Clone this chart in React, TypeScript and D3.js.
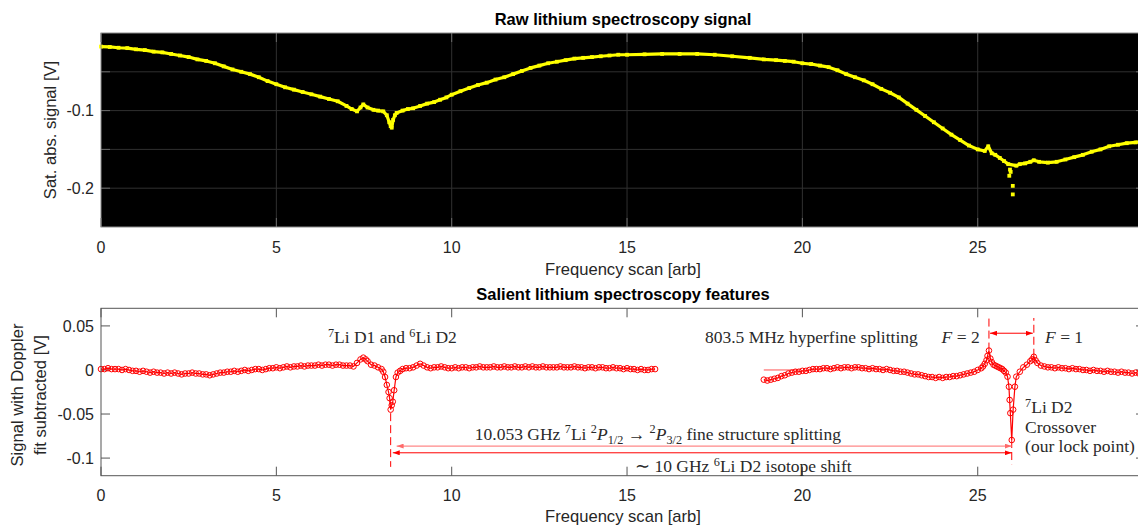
import React, { useEffect, useRef } from 'react';
import * as d3 from 'd3';

// raw saturated absorption scan, [scan, volts]
const rawSignal: [number, number][] = [
  [0, -0.0175], [0.25, -0.018], [0.5, -0.019], [0.75, -0.0195], [1, -0.021], [1.25, -0.022], [1.5, -0.024],
  [1.75, -0.025], [2, -0.027], [2.25, -0.029], [2.5, -0.031], [2.75, -0.034], [3, -0.036], [3.25, -0.039],
  [3.5, -0.043], [3.75, -0.047], [4, -0.05], [4.25, -0.053], [4.5, -0.057], [4.75, -0.062], [5, -0.066],
  [5.25, -0.07], [5.5, -0.073], [5.75, -0.076], [6, -0.079], [6.25, -0.082], [6.5, -0.085], [6.75, -0.088],
  [7, -0.094], [7.15, -0.098], [7.3, -0.101], [7.4, -0.096], [7.48, -0.092], [7.6, -0.096], [7.77, -0.099],
  [7.9, -0.1], [8.05, -0.101], [8.15, -0.106], [8.22, -0.115], [8.26, -0.12], [8.29, -0.122], [8.33, -0.112],
  [8.38, -0.106], [8.43, -0.103], [8.6, -0.1], [8.75, -0.098], [8.9, -0.097], [9.1, -0.094], [9.3, -0.091],
  [9.5, -0.089], [9.67, -0.086], [9.85, -0.083], [10, -0.0795], [10.25, -0.075], [10.5, -0.071], [10.75, -0.067],
  [11, -0.064], [11.25, -0.06], [11.5, -0.057], [11.75, -0.053], [12, -0.049], [12.25, -0.045], [12.5, -0.042],
  [12.75, -0.039], [13, -0.037], [13.25, -0.035], [13.5, -0.033], [13.75, -0.032], [14, -0.031], [14.25, -0.03],
  [14.5, -0.029], [14.75, -0.028], [15, -0.028], [15.5, -0.0275], [16, -0.027], [16.5, -0.027], [17, -0.027],
  [17.5, -0.028], [18, -0.03], [18.5, -0.032], [18.9, -0.034], [19.25, -0.035], [19.5, -0.036], [19.75, -0.037],
  [20, -0.039], [20.25, -0.04], [20.5, -0.042], [20.75, -0.044], [21, -0.048], [21.25, -0.053], [21.5, -0.057],
  [21.75, -0.061], [22, -0.066], [22.25, -0.072], [22.5, -0.077], [22.75, -0.083], [23, -0.091], [23.25, -0.099],
  [23.5, -0.107], [23.75, -0.115], [24, -0.123], [24.25, -0.131], [24.5, -0.138], [24.75, -0.145], [25, -0.15],
  [25.2, -0.152], [25.3, -0.146], [25.4, -0.155], [25.5, -0.157], [25.63, -0.161], [25.75, -0.165], [25.87, -0.169],
  [26.1, -0.171], [26.2, -0.169], [26.35, -0.168], [26.5, -0.166], [26.6, -0.164], [26.75, -0.166], [27, -0.167],
  [27.25, -0.166], [27.5, -0.163], [27.75, -0.16], [28, -0.157], [28.25, -0.153], [28.5, -0.15], [28.75, -0.146],
  [29, -0.144], [29.25, -0.142], [29.5, -0.141], [29.77, -0.139],
];
const rawDipDots: [number, number][] = [
  [25.92, -0.176], [25.94, -0.179], [25.9, -0.184], [26.0, -0.197], [26.0, -0.208],
];

// doppler-subtracted signal, two scan pieces
const diffLeft: [number, number][] = [
  [0, 0.001], [0.1, 0.001], [0.2, 0.002], [0.3, 0.001], [0.4, 0.001], [0.5, 0.001], [0.6, 0], [0.7, 0.001], [0.8, 0], [0.9, -0.001],
  [1, -0.001], [1.1, -0.002], [1.2, -0.001], [1.3, -0.002], [1.4, -0.003], [1.5, -0.002], [1.6, -0.003], [1.7, -0.003], [1.8, -0.004], [1.9, -0.003],
  [2, -0.004], [2.1, -0.003], [2.2, -0.004], [2.3, -0.005], [2.4, -0.004], [2.5, -0.004], [2.6, -0.003], [2.7, -0.004], [2.8, -0.004], [2.9, -0.005],
  [3, -0.005], [3.1, -0.006], [3.2, -0.005], [3.3, -0.004], [3.4, -0.003], [3.5, -0.003], [3.6, -0.002], [3.7, -0.002], [3.8, -0.001], [3.9, -0.002],
  [4, -0.001], [4.1, 0], [4.2, -0.001], [4.3, 0], [4.4, 0.001], [4.5, 0.001], [4.6, 0], [4.7, 0.001], [4.8, 0.002], [4.9, 0.002],
  [5, 0.003], [5.1, 0.002], [5.2, 0.003], [5.3, 0.004], [5.4, 0.003], [5.5, 0.004], [5.6, 0.004], [5.7, 0.005], [5.8, 0.004], [5.9, 0.005],
  [6, 0.005], [6.1, 0.005], [6.2, 0.006], [6.3, 0.005], [6.4, 0.006], [6.5, 0.006], [6.6, 0.005], [6.7, 0.006], [6.8, 0.006], [6.9, 0.005],
  [7, 0.005], [7.1, 0.005], [7.2, 0.004], [7.3, 0.008], [7.4, 0.012], [7.48, 0.014], [7.55, 0.012], [7.6, 0.01], [7.7, 0.006], [7.8, 0.005], [7.9, 0.003],
  [8, 0.001], [8.05, -0.002], [8.1, -0.008], [8.15, -0.017], [8.2, -0.025], [8.23, -0.032], [8.26, -0.045], [8.29, -0.04], [8.32, -0.036],
  [8.36, -0.023], [8.41, -0.008], [8.46, -0.003], [8.53, -0.001], [8.6, 0.001], [8.7, 0.002], [8.8, 0.002], [8.9, 0.003],
  [9, 0.005], [9.1, 0.007], [9.2, 0.005], [9.3, 0.003], [9.4, 0.002], [9.5, 0.003], [9.6, 0.003], [9.7, 0.004], [9.8, 0.003], [9.9, 0.002],
  [10, 0.002], [10.1, 0.003], [10.2, 0.002], [10.3, 0.003], [10.4, 0.003], [10.5, 0.002], [10.6, 0.003], [10.7, 0.003], [10.8, 0.004], [10.9, 0.003],
  [11, 0.003], [11.1, 0.003], [11.2, 0.004], [11.3, 0.003], [11.4, 0.003], [11.5, 0.004], [11.6, 0.003], [11.7, 0.003], [11.8, 0.004], [11.9, 0.003],
  [12, 0.003], [12.1, 0.004], [12.2, 0.003], [12.3, 0.004], [12.4, 0.003], [12.5, 0.003], [12.6, 0.004], [12.7, 0.003], [12.8, 0.003], [12.9, 0.003],
  [13, 0.003], [13.1, 0.004], [13.2, 0.003], [13.3, 0.003], [13.4, 0.003], [13.5, 0.004], [13.6, 0.003], [13.7, 0.003], [13.8, 0.002], [13.9, 0.003],
  [14, 0.003], [14.1, 0.002], [14.2, 0.003], [14.3, 0.003], [14.4, 0.002], [14.5, 0.002], [14.6, 0.003], [14.7, 0.002], [14.8, 0.002], [14.9, 0.001],
  [15, 0.002], [15.1, 0.001], [15.2, 0.001], [15.3, 0], [15.4, 0.001], [15.5, 0], [15.6, 0], [15.7, 0.001], [15.8, 0.001],
];
const diffRight: [number, number][] = [
  [18.9, -0.011], [19, -0.012], [19.1, -0.011], [19.2, -0.01], [19.3, -0.009], [19.4, -0.007], [19.5, -0.006], [19.6, -0.004], [19.7, -0.003], [19.8, -0.002], [19.9, -0.002],
  [20, -0.001], [20.1, -0.001], [20.2, 0], [20.3, 0.001], [20.4, 0.001], [20.5, 0.001], [20.6, 0.002], [20.7, 0.002], [20.8, 0.001], [20.9, 0.002],
  [21, 0.003], [21.1, 0.002], [21.2, 0.003], [21.3, 0.003], [21.4, 0.002], [21.5, 0.003], [21.6, 0.003], [21.7, 0.002], [21.8, 0.002], [21.9, 0.001],
  [22, 0.002], [22.1, 0.001], [22.2, 0.001], [22.3, 0], [22.4, 0.001], [22.5, 0], [22.6, -0.001], [22.7, -0.001], [22.8, -0.002], [22.9, -0.002],
  [23, -0.003], [23.1, -0.004], [23.2, -0.005], [23.3, -0.005], [23.4, -0.006], [23.5, -0.007], [23.6, -0.008], [23.7, -0.008], [23.8, -0.009], [23.9, -0.008],
  [24, -0.009], [24.1, -0.008], [24.2, -0.008], [24.3, -0.007], [24.4, -0.007], [24.5, -0.006], [24.6, -0.005], [24.7, -0.004], [24.8, -0.003], [24.9, -0.002],
  [25, 0], [25.1, 0.002], [25.15, 0.004], [25.2, 0.007], [25.25, 0.011], [25.28, 0.016], [25.32, 0.022], [25.36, 0.013], [25.4, 0.009],
  [25.45, 0.006], [25.5, 0.005], [25.55, 0.004], [25.6, 0.003], [25.65, 0.002], [25.7, 0.001], [25.75, -0.001], [25.8, -0.003],
  [25.85, -0.0076], [25.89, -0.019], [25.91, -0.034], [25.93, -0.049], [25.97, -0.0795], [26.01, -0.045], [26.06, -0.019],
  [26.1, -0.0076], [26.2, -0.002], [26.3, 0.003], [26.4, 0.006], [26.5, 0.01], [26.55, 0.012], [26.6, 0.015], [26.65, 0.011],
  [26.7, 0.008], [26.8, 0.005], [26.9, 0.004],
  [27, 0.003], [27.1, 0.003], [27.2, 0.002], [27.3, 0.003], [27.4, 0.002], [27.5, 0.002], [27.6, 0.001], [27.7, 0.002], [27.8, 0.001], [27.9, 0.001],
  [28, 0], [28.1, 0], [28.2, -0.001], [28.3, 0], [28.4, -0.001], [28.5, -0.001], [28.6, -0.002], [28.7, -0.001], [28.8, -0.002], [28.9, -0.002],
  [29, -0.003], [29.1, -0.002], [29.2, -0.003], [29.3, -0.003], [29.4, -0.004], [29.5, -0.003], [29.6, -0.004], [29.7, -0.004], [29.77, -0.004],
];

const xTicks = [0, 5, 10, 15, 20, 25];
const rawYTicks = [-0.1, -0.2];
const rawYTickLabels = ['-0.1', '-0.2'];
const rawGrid = [-0.05, -0.1, -0.15, -0.2];
const diffYTicks = [0.05, 0, -0.05, -0.1];
const diffYTickLabels = ['0.05', '0', '-0.05', '-0.1'];

// feature positions on the scan
const d1Pos = 8.26;
const crossPos = 25.97;
const f2Pos = 25.32;
const f1Pos = 26.6;

const SANS = "'Liberation Sans', Arial, Helvetica, sans-serif";
const SERIF = "'Liberation Serif', 'Times New Roman', serif";

type Seg = { t: string; sup?: boolean; sub?: boolean; it?: boolean };

export default function App() {
  const ref = useRef<SVGSVGElement>(null);

  useEffect(() => {
    const svg = d3.select(ref.current);
    svg.selectAll('*').remove();

    const x = d3.scaleLinear().domain([0, 29.77]).range([101, 1145]);
    const yRaw = d3.scaleLinear().domain([-0.25, 0]).range([227, 33]);
    const yDiff = d3.scaleLinear().domain([-0.12, 0.07]).range([475.7, 308.3]);
    const tick = 9;

    const defs = svg.append('defs');
    const marker = (id: string, color: string) =>
      defs.append('marker').attr('id', id).attr('viewBox', '0 0 7 5').attr('refX', 7).attr('refY', 2.5)
        .attr('markerWidth', 7).attr('markerHeight', 5).attr('markerUnits', 'userSpaceOnUse')
        .attr('orient', 'auto-start-reverse')
        .append('path').attr('d', 'M0,0L7,2.5L0,5Z').attr('fill', color);
    marker('arR', '#ff0000');
    marker('arL', '#ff6a6a');

    const label = (px: number, py: number, txt: string, size: number, opts: any = {}) =>
      svg.append('text').attr('x', px).attr('y', py).attr('font-family', SANS).attr('font-size', size)
        .attr('fill', opts.fill || '#262626').attr('text-anchor', opts.anchor || 'middle')
        .attr('font-weight', opts.bold ? 'bold' : 'normal')
        .attr('transform', opts.rot ? `rotate(-90,${px},${py})` : null)
        .text(txt);

    // ---------- top: raw signal ----------
    const [tx0, tx1] = x.range();
    const [ty1, ty0] = yRaw.range();
    const top = svg.append('g');
    top.append('rect').attr('x', tx0).attr('y', ty0).attr('width', tx1 - tx0).attr('height', ty1 - ty0).attr('fill', '#000');
    top.selectAll('.gx').data(xTicks.slice(1)).enter().append('line')
      .attr('x1', (d) => x(d)).attr('x2', (d) => x(d)).attr('y1', ty0).attr('y2', ty1)
      .attr('stroke', '#303030');
    top.selectAll('.gy').data(rawGrid).enter().append('line')
      .attr('x1', tx0).attr('x2', tx1).attr('y1', (d) => yRaw(d)).attr('y2', (d) => yRaw(d))
      .attr('stroke', '#303030');
    top.selectAll('.tx').data(xTicks).enter().append('path')
      .attr('d', (d) => `M${x(d)},${ty1}v${-tick}M${x(d)},${ty0}v${tick}`).attr('stroke', '#6a6a6a');
    top.selectAll('.ty').data(rawGrid).enter().append('path')
      .attr('d', (d) => `M${tx0},${yRaw(d)}h${tick}M${tx1},${yRaw(d)}h${-tick}`).attr('stroke', '#6a6a6a');

    const rawLine = d3.line<[number, number]>().x((d) => x(d[0])).y((d) => yRaw(d[1]));
    top.append('path').datum(rawSignal).attr('d', rawLine).attr('fill', 'none')
      .attr('stroke', '#ffff00').attr('stroke-width', 3.2).attr('stroke-linejoin', 'round');
    top.selectAll('.rd').data(rawSignal.concat(rawDipDots)).enter().append('rect')
      .attr('x', (d) => x(d[0]) - 1.9).attr('y', (d) => yRaw(d[1]) - 1.9)
      .attr('width', 3.8).attr('height', 3.8).attr('fill', '#ffff00');

    top.append('rect').attr('x', tx0).attr('y', ty0).attr('width', tx1 - tx0).attr('height', ty1 - ty0)
      .attr('fill', 'none').attr('stroke', '#8c8c8c');

    xTicks.forEach((t) => label(x(t), 253, String(t), 16));
    rawYTicks.forEach((t, i) => label(94, yRaw(t) + 5.6, rawYTickLabels[i], 16, { anchor: 'end' }));
    label(623, 25, 'Raw lithium spectroscopy signal', 16.5, { bold: true, fill: '#000' });
    label(623, 275, 'Frequency scan [arb]', 16.6);
    label(56, 130, 'Sat. abs. signal [V]', 16.6, { rot: true });

    // ---------- bottom: doppler subtracted ----------
    const [by1, by0] = yDiff.range();
    const bot = svg.append('g');
    bot.append('rect').attr('x', tx0).attr('y', by0).attr('width', tx1 - tx0).attr('height', by1 - by0).attr('fill', '#fff');
    bot.selectAll('.tx').data(xTicks).enter().append('path')
      .attr('d', (d) => `M${x(d)},${by1}v${-tick}M${x(d)},${by0}v${tick}`).attr('stroke', '#555');
    bot.selectAll('.ty').data(diffYTicks).enter().append('path')
      .attr('d', (d) => `M${tx0},${yDiff(d)}h${tick}M${tx1},${yDiff(d)}h${-tick}`).attr('stroke', '#555');

    // thin zero reference at start of second piece
    bot.append('line').attr('x1', x(18.9)).attr('x2', x(19.9)).attr('y1', yDiff(0)).attr('y2', yDiff(0))
      .attr('stroke', '#ff5050').attr('stroke-width', 1);

    const diffLine = d3.line<[number, number]>().x((d) => x(d[0])).y((d) => yDiff(d[1]));
    [diffLeft, diffRight].forEach((seg) => {
      bot.append('path').datum(seg).attr('d', diffLine).attr('fill', 'none')
        .attr('stroke', '#ff0000').attr('stroke-width', 1.2);
      bot.append('g').selectAll('circle').data(seg).enter().append('circle')
        .attr('cx', (d) => x(d[0])).attr('cy', (d) => yDiff(d[1])).attr('r', 2.8)
        .attr('fill', 'none').attr('stroke', '#ff0000').attr('stroke-width', 1);
    });

    // dashed markers
    const dashed = (pos: number, v0: number, v1: number) =>
      bot.append('line').attr('x1', x(pos)).attr('x2', x(pos)).attr('y1', yDiff(v0)).attr('y2', yDiff(v1))
        .attr('stroke', '#ff0000').attr('stroke-dasharray', '8,4');
    dashed(d1Pos, -0.049, -0.11);
    dashed(crossPos, -0.0795, -0.107);
    dashed(f2Pos, 0.022, 0.059);
    dashed(f1Pos, 0.015, 0.059);

    const arrow = (a: number, b: number, v: number, color: string, id: string) =>
      bot.append('line').attr('x1', x(a)).attr('x2', x(b)).attr('y1', yDiff(v)).attr('y2', yDiff(v))
        .attr('stroke', color).attr('stroke-width', 1)
        .attr('marker-start', `url(#${id})`).attr('marker-end', `url(#${id})`);
    arrow(8.43, crossPos, -0.0864, '#ff6a6a', 'arL');
    arrow(8.32, crossPos, -0.094, '#ff0000', 'arR');
    arrow(f2Pos + 0.03, f1Pos - 0.03, 0.0417, '#ff0000', 'arR');

    bot.append('rect').attr('x', tx0).attr('y', by0).attr('width', tx1 - tx0).attr('height', by1 - by0)
      .attr('fill', 'none').attr('stroke', '#555');

    const rich = (sx: number, sv: number, segs: Seg[]) => {
      const size = 17.5;
      const text = bot.append('text').attr('x', x(sx)).attr('y', yDiff(sv)).attr('font-family', SERIF)
        .attr('font-size', size).attr('fill', '#2a2a2a').style('white-space', 'pre');
      let level = 0;
      segs.forEach((s) => {
        const target = s.sup ? -0.38 * size : s.sub ? 0.22 * size : 0;
        const ts = text.append('tspan').attr('dy', target - level).text(s.t);
        level = target;
        if (s.sup || s.sub) ts.attr('font-size', size * 0.7);
        if (s.it) ts.attr('font-style', 'italic');
      });
    };

    rich(6.47, 0.0303, [{ t: '7', sup: true }, { t: 'Li D1 and ' }, { t: '6', sup: true }, { t: 'Li D2' }]);
    rich(17.22, 0.0303, [{ t: '803.5 MHz hyperfine splitting' }]);
    rich(23.97, 0.0303, [{ t: 'F', it: true }, { t: ' = 2' }]);
    rich(26.92, 0.0303, [{ t: 'F', it: true }, { t: ' = 1' }]);
    rich(26.35, -0.0492, [{ t: '7', sup: true }, { t: 'Li D2' }]);
    rich(26.35, -0.0719, [{ t: 'Crossover' }]);
    rich(26.35, -0.0932, [{ t: '(our lock point)' }]);
    rich(10.66, -0.0795, [
      { t: '10.053 GHz ' }, { t: '7', sup: true }, { t: 'Li ' }, { t: '2', sup: true }, { t: 'P', it: true },
      { t: '1/2', sub: true }, { t: ' \u2192 ' }, { t: '2', sup: true }, { t: 'P', it: true }, { t: '3/2', sub: true },
      { t: ' fine structure splitting' },
    ]);
    rich(15.23, -0.116, [{ t: '\u223c 10 GHz ' }, { t: '6', sup: true }, { t: 'Li D2 isotope shift' }]);

    xTicks.forEach((t) => label(x(t), 500.5, String(t), 16));
    diffYTicks.forEach((t, i) => label(94, yDiff(t) + 5.6, diffYTickLabels[i], 16, { anchor: 'end' }));
    label(623, 299.5, 'Salient lithium spectroscopy features', 16.5, { bold: true, fill: '#000' });
    label(623, 521.5, 'Frequency scan [arb]', 16.6);
    label(22.5, 395, 'Signal with Doppler', 16.6, { rot: true });
    label(45.5, 395, 'fit subtracted [V]', 16.6, { rot: true });
  }, []);

  return (
    <svg ref={ref} width={1138} height={526}
      style={{ position: 'absolute', left: 0, top: 0, background: '#fff', display: 'block' }} />
  );
}
